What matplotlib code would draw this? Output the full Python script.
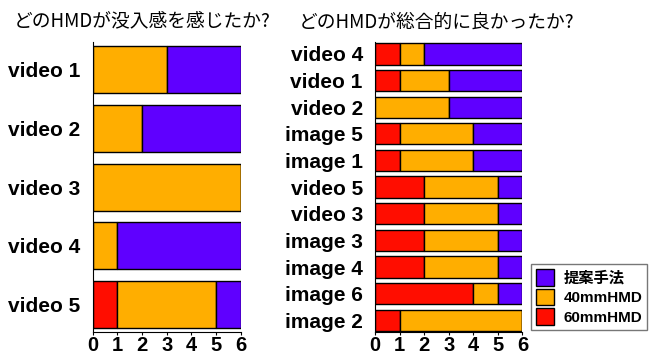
import numpy as np
import matplotlib.pyplot as plt
from matplotlib.patches import Patch

plt.rcParams['font.family'] = ['Liberation Sans', 'Noto Sans CJK JP', 'DejaVu Sans']

# immersion question
left_labels = ['video 1', 'video 2', 'video 3', 'video 4', 'video 5']
left_60 = [0, 0, 0, 0, 1]
left_40 = [3, 2, 6, 1, 4]
left_prop = [3, 4, 0, 5, 1]

# overall question
right_labels = ['video 4', 'video 1', 'video 2', 'image 5', 'image 1', 'video 5',
                'video 3', 'image 3', 'image 4', 'image 6', 'image 2']
right_60 = [1, 1, 0, 1, 1, 2, 2, 2, 2, 4, 1]
right_40 = [1, 2, 3, 3, 3, 3, 3, 3, 3, 1, 5]
right_prop = [4, 3, 3, 2, 2, 1, 1, 1, 1, 1, 0]

c_prop = '#5f00ff'
c_40 = '#ffae00'
c_60 = '#ff0d00'

fig = plt.figure(figsize=(6.63, 3.55), dpi=100)
ax1 = fig.add_axes([0.140, 0.064, 0.223, 0.818])
ax2 = fig.add_axes([0.566, 0.064, 0.222, 0.818])


def stacked(ax, labels, r, o, p, ylim_pad):
    y = np.arange(len(labels))
    r = np.array(r); o = np.array(o); p = np.array(p)
    kw = dict(height=0.8, edgecolor='black', linewidth=1)
    ax.barh(y, r, color=c_60, **kw)
    ax.barh(y, o, left=r, color=c_40, **kw)
    ax.barh(y, p, left=r + o, color=c_prop, **kw)
    ax.set_xlim(0, 6)
    ax.set_ylim(len(labels) - 1 + ylim_pad, -ylim_pad)
    ax.set_yticks(y)
    ax.set_yticklabels(labels, fontsize=15, fontweight='bold')
    ax.tick_params(axis='y', length=0, pad=9)
    ax.set_xticks(range(7))
    ax.tick_params(axis='x', labelsize=14.5, length=2.5, pad=0.5)
    for t in ax.get_xticklabels():
        t.set_fontweight('bold')
    ax.spines['top'].set_visible(False)
    ax.spines['right'].set_visible(False)


stacked(ax1, left_labels, left_60, left_40, left_prop, 0.47)
stacked(ax2, right_labels, right_60, right_40, right_prop, 0.45)

fig.text(0.215, 0.942, 'どのHMDが没入感を感じたか?', ha='center', va='center',
         fontsize=13.5, family=['Noto Sans CJK JP'])
fig.text(0.658, 0.937, 'どのHMDが総合的に良かったか?', ha='center', va='center',
         fontsize=13.5, family=['Noto Sans CJK JP'])

handles = [Patch(facecolor=c_prop, edgecolor='black'),
           Patch(facecolor=c_40, edgecolor='black'),
           Patch(facecolor=c_60, edgecolor='black')]
leg = fig.legend(handles, ['提案手法', '40mmHMD', '60mmHMD'],
                 loc='lower left', bbox_to_anchor=(0.79, 0.05),
                 prop={'weight': 'bold', 'size': 11}, fancybox=False,
                 edgecolor='#555555', handlelength=1.2, handleheight=1.3,
                 labelspacing=0.2, handletextpad=0.6, borderpad=0.3)

fig.savefig('out.png', dpi=100)
